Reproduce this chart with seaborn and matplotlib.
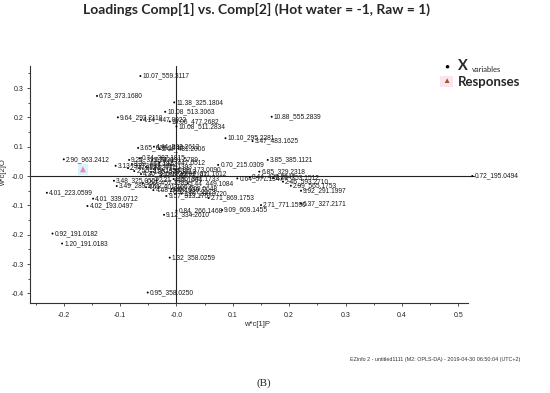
import matplotlib
matplotlib.use("Agg")
import matplotlib.pyplot as plt
import seaborn as sns
import pandas as pd
import numpy as np

# ---- data ----
labels = [
    "10.07_559.3117", "6.73_373.1680", "11.38_325.1804", "10.08_513.3063",
    "9.64_293.2110", "4.14_447.0922", "10.06_477.2682", "10.08_511.2834",
    "10.88_555.2839", "10.10_295.2281", "3.47_483.1625", "3.65_609.1446",
    "2.44_431.2006", "4.44_593.2612", "2.90_963.2412", "0.74_387.1815",
    "0.74_191.5789", "3.13_933.1012", "3.48_325.0552", "3.49_289.1022",
    "4.01_223.0599", "4.01_339.0712", "4.02_193.0497", "0.92_191.0182",
    "1.20_191.0183", "9.12_334.2610", "0.84_266.1468", "9.09_609.1455",
    "1.32_358.0259", "0.95_358.0250", "0.70_215.0309", "3.85_385.1121",
    "6.85_329.2318", "0.72_195.0494", "0.64_577.1347", "2.71_771.1590",
    "6.37_327.2171", "9.92_291.1997", "2.71_869.1753", "0.66_209.0648",
    "0.66_341.1733", "2.29_353.1512", "2.46_593.2710", "2.99_565.1753",
    "9.24_329.2330", "3.39_461.1912", "2.74_313.2377", "2.50_517.1350",
    "1.03_441.1393", "3.13_447.0512", "4.30_305.1020", "4.35_579.1712",
    "2.86_425.2147", "3.50_457.1389", "4.61_401.1653", "4.68_355.1030",
    "9.57_313.1757", "1.10_289.0720", "6.92_327.2173", "1.44_449.1084",
    "8.44_427.2047", "2.21_415.1604", "0.88_173.0090", "3.02_611.1612",
]
w_c1 = [
    -0.064, -0.141, -0.004, -0.020,
    -0.104, -0.063, -0.012, 0.000,
    0.169, 0.087, 0.135, -0.068,
    -0.030, -0.040, -0.200, -0.065,
    -0.043, -0.108, -0.111, -0.106,
    -0.230, -0.148, -0.158, -0.220,
    -0.203, -0.022, 0.000, 0.081,
    -0.012, -0.051, 0.074, 0.162,
    0.147, 0.525, 0.108, 0.150,
    0.221, 0.221, 0.057, -0.009,
    -0.005, 0.172, 0.189, 0.203,
    -0.084, -0.079, -0.086, -0.075,
    -0.054, -0.030, -0.063, -0.045,
    -0.027, -0.060, -0.054, -0.041,
    -0.018, 0.009, -0.010, 0.020,
    0.130, -0.035, -0.002, 0.010,
]
w_c2 = [
    0.341, 0.273, 0.251, 0.219,
    0.200, 0.191, 0.186, 0.169,
    0.202, 0.129, 0.119, 0.096,
    0.092, 0.100, 0.057, 0.061,
    0.055, 0.035, -0.016, -0.034,
    -0.057, -0.077, -0.102, -0.196,
    -0.230, -0.132, -0.118, -0.116,
    -0.278, -0.397, 0.038, 0.055,
    0.015, 0.000, -0.008, -0.099,
    -0.093, -0.050, -0.075, -0.044,
    -0.010, -0.007, -0.019, -0.033,
    0.055, 0.041, 0.027, 0.017,
    0.031, 0.046, 0.007, 0.014,
    0.003, -0.024, -0.038, -0.048,
    -0.068, -0.060, -0.052, -0.025,
    -0.004, -0.014, 0.022, 0.008,
]
response_x = [-0.166]
response_y = [0.023]

x_ticks = [-0.2, -0.1, 0.0, 0.1, 0.2, 0.3, 0.4, 0.5]
x_ticklabels = ["-0.2", "-0.1", "-0.0", "0.1", "0.2", "0.3", "0.4", "0.5"]
y_ticks = [0.3, 0.2, 0.1, 0.0, -0.1, -0.2, -0.3, -0.4]
y_ticklabels = ["0.3", "0.2", "0.1", "-0.0", "-0.1", "-0.2", "-0.3", "-0.4"]

df = pd.DataFrame({"label": labels, "x": w_c1, "y": w_c2})
resp = pd.DataFrame({"x": response_x, "y": response_y})

sns.set_style("white")
plt.rcParams["font.family"] = ["Liberation Sans", "DejaVu Sans"]

fig = plt.figure(figsize=(5.5, 3.93), dpi=100)
ax = fig.add_axes([0.0545, 0.228, 0.796, 0.604])

XMAX = 0.517
ax.plot([-0.26, 0.528], [0, 0], color="#222222", lw=0.8, zorder=1, clip_on=False)
ax.axvline(0, color="#222222", lw=0.8, zorder=1)

sns.scatterplot(data=df, x="x", y="y", ax=ax, color="black", s=2,
                edgecolor="none", zorder=3, legend=False)
for coll in ax.collections:
    coll.set_clip_on(False)
for _, r in df.iterrows():
    ax.annotate(r["label"], (r["x"], r["y"]), xytext=(1.5, 0),
                textcoords="offset points", va="center", ha="left",
                fontsize=4.8, color="#1a1a1a", zorder=4,
                annotation_clip=False)

# response marker
sns.scatterplot(data=resp, x="x", y="y", ax=ax, marker="s", s=60,
                color="#d8f4f8", edgecolor="none", zorder=2, legend=False)
sns.scatterplot(data=resp, x="x", y="y", ax=ax, marker="^", s=18,
                color="#f080c8", edgecolor="none", zorder=3, legend=False)

ax.set_xlim(-0.26, XMAX)
ax.set_ylim(-0.434, 0.375)
ax.set_xticks(x_ticks)
ax.set_xticklabels(x_ticklabels)
ax.set_yticks(y_ticks)
ax.set_yticklabels(y_ticklabels)
ax.set_xticks(np.arange(-0.25, 0.52, 0.05), minor=True)
ax.set_yticks(np.arange(-0.4, 0.38, 0.05), minor=True)
ax.tick_params(axis="both", which="major", length=2.5, width=0.6,
               labelsize=5, direction="out", color="#333333")
ax.tick_params(axis="x", which="major", pad=4)
ax.tick_params(axis="y", which="major", pad=2)
ax.tick_params(axis="both", which="minor", length=1.5, width=0.6,
               direction="out", color="#333333")
ax.tick_params(left=True, bottom=True, which="both")
sns.despine(ax=ax)
for s in ["left", "bottom"]:
    ax.spines[s].set_color("#333333")
    ax.spines[s].set_linewidth(0.8)

ax.set_xlabel("w*c[1]P", fontsize=5.5)
ax.xaxis.set_label_coords(0.518, -0.075)
ax.set_ylabel("w*c[2]O", fontsize=5.5)
ax.yaxis.set_label_coords(-0.052, 0.55)
ax.grid(False)

fig.text(0.467, 0.975, "Loadings Comp[1] vs. Comp[2] (Hot water = -1, Raw = 1)",
         ha="center", va="center", fontsize=10, fontweight="bold",
         family=["Lato", "DejaVu Sans"])

# custom legend
fig.text(0.812, 0.830, "\u25CF", fontsize=6, ha="center", va="center", color="black")
fig.text(0.832, 0.832, "X", fontsize=10.5, fontweight="bold", ha="left", va="center",
         family=["Lato", "DejaVu Sans"])
fig.text(0.858, 0.822, "variables", fontsize=5.5, ha="left", va="center",
         family=["Lato", "DejaVu Sans"])
fig.text(0.812, 0.792, "\u25B2", fontsize=6, ha="center", va="center", color="#9c5a28",
         bbox=dict(boxstyle="square,pad=0.25", fc="#fbe3f2", ec="none"))
fig.text(0.832, 0.792, "Responses", fontsize=9.5, fontweight="bold", ha="left",
         va="center", family=["Lato", "DejaVu Sans"])

fig.text(0.946, 0.086,
         "EZinfo 2 - untitled1111 (M2: OPLS-DA) - 2019-04-30 06:50:04 (UTC+2)",
         fontsize=3.9, ha="right", va="center", color="#333333")
fig.text(0.48, 0.025, "(B)", fontsize=8, ha="center", va="center",
         family=["Liberation Serif", "DejaVu Serif"])

fig.savefig("out.png", dpi=100, facecolor="white")
